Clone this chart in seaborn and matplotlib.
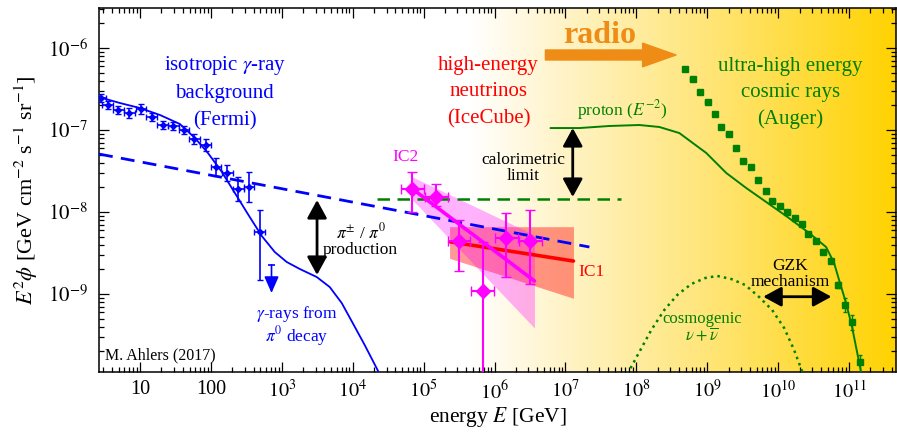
import numpy as np
import matplotlib
matplotlib.use('Agg')
import matplotlib.pyplot as plt
import seaborn as sns
from matplotlib.colors import LinearSegmentedColormap
from matplotlib.ticker import LogLocator, FixedLocator, FuncFormatter, NullFormatter

# values are log10(E / GeV) and log10(E^2 phi / GeV cm^-2 s^-1 sr^-1)

# Fermi isotropic gamma-ray background
fermi_logE = [0.451, 0.545, 0.694, 0.849, 1.014, 1.165, 1.320, 1.469, 1.620,
              1.765, 1.925, 2.070, 2.230, 2.385, 2.539, 2.690]
fermi_logF = [-6.610, -6.695, -6.756, -6.793, -6.744, -6.841, -6.939, -6.951,
              -7.000, -7.110, -7.183, -7.451, -7.524, -7.720, -7.695, -8.244]
fermi_err_up = [0.05, 0.05, 0.05, 0.06, 0.06, 0.05, 0.05, 0.05, 0.05, 0.06,
                0.07, 0.11, 0.10, 0.15, 0.18, 0.27]
fermi_err_dn = [0.05, 0.05, 0.05, 0.06, 0.06, 0.05, 0.05, 0.05, 0.05, 0.06,
                0.07, 0.11, 0.10, 0.15, 0.18, 0.58]
fermi_ul_logE = 2.855
fermi_ul_logF = -8.646
fermi_ul_tip = -8.988

# pi0 decay gamma-ray model
gamma_logE = [0.4225, 0.718, 1.0, 1.282, 1.563, 1.775, 1.958, 2.155, 2.338, 2.521,
              2.718, 2.901, 3.070, 3.254, 3.493, 3.676, 3.845, 4.0, 4.169, 4.380]
gamma_logF = [-6.598, -6.671, -6.732, -6.817, -6.927, -7.098, -7.280, -7.512, -7.768,
              -8.024, -8.293, -8.488, -8.610, -8.695, -8.793, -8.915, -9.110, -9.354,
              -9.622, -9.976]

# power-law extrapolation (dashed blue)
pl_logE = [0.4225, 7.338]
pl_logF = [-7.293, -8.427]

# calorimetric limit (dashed green)
calo_logE = [4.338, 7.789]
calo_logF = [-7.845, -7.845]

# IceCube IC2 (HESE) data
ic2_logE = [4.841, 5.179, 5.497, 5.835, 6.165, 6.503]
ic2_logF = [-7.720, -7.821, -8.354, -8.960, -8.313, -8.350]
ic2_err_up = [0.204, 0.16, 0.256, 0.598, 0.304, 0.374]
ic2_err_dn = [0.276, 0.10, 0.366, 3.0, 0.476, 0.528]
ic2_xerr = 0.16
ic2_band_logE = [4.845, 6.563]
ic2_band_hi = [-7.573, -8.280]
ic2_band_lo = [-7.854, -9.415]
ic2_fit = [-7.720, -8.841]

# IceCube IC1 (through-going muons)
ic1_logE = [5.366, 7.113]
ic1_band_hi = [-8.179, -8.179]
ic1_band_lo = [-8.565, -9.052]
ic1_fit = [-8.362, -8.598]

# Auger UHECR spectrum
auger_logE = [8.690, 8.793, 8.901, 9.004, 9.108, 9.193, 9.300, 9.404, 9.511, 9.620,
              9.718, 9.824, 9.920, 10.025, 10.131, 10.235, 10.341, 10.427, 10.531,
              10.638, 10.742, 10.845, 10.939, 11.046, 11.151]
auger_logF = [-6.256, -6.382, -6.540, -6.662, -6.805, -6.967, -7.049, -7.216, -7.374,
              -7.455, -7.610, -7.744, -7.870, -7.930, -8.006, -8.077, -8.150, -8.268,
              -8.350, -8.484, -8.598, -8.890, -9.134, -9.345, -9.826]
auger_err_up = [0.02] * 21 + [0.04, 0.08, 0.09, 0.08]
auger_err_dn = [0.02] * 21 + [0.04, 0.08, 0.10, 0.5]

# proton model E^-2
proton_logE = [6.789, 7.197, 7.620, 8.042, 8.324, 8.606, 8.986, 9.268, 9.549, 9.831,
               10.113, 10.437, 10.676, 10.789, 10.859, 10.958, 11.042, 11.169]
proton_logF = [-6.976, -6.976, -6.951, -6.939, -6.963, -7.037, -7.280, -7.524, -7.707,
               -7.878, -8.049, -8.256, -8.427, -8.622, -8.829, -9.110, -9.402, -9.951]

# cosmogenic neutrinos
cosmo_logE = [7.873, 8.042, 8.211, 8.394, 8.577, 8.775, 8.972, 9.141, 9.338, 9.535,
              9.732, 9.915, 10.085, 10.225, 10.352]
cosmo_logF = [-9.976, -9.707, -9.439, -9.195, -9.012, -8.878, -8.805, -8.780, -8.817,
              -8.890, -9.037, -9.195, -9.415, -9.683, -9.976]

XLIM = (0.4225, 11.662)
YLIM = (-9.951, -5.506)
xticks_exp = list(range(1, 12))
yticks_exp = [-9, -8, -7, -6]

BLUE = '#0000ff'
RED = '#ff0000'
MAG = '#ff00ff'
GREEN = '#008000'
ORANGE = '#ee8c16'


def p(v):
    return 10 ** np.asarray(v, dtype=float)


sns.set_theme(style='ticks')
plt.rcParams['font.family'] = ['Liberation Serif', 'DejaVu Serif']
plt.rcParams['mathtext.fontset'] = 'stix'

fig = plt.figure(figsize=(8.97, 4.34), dpi=100)
ax = fig.add_axes([0.1104, 0.1429, 0.8885, 0.8398])
ax.set_xscale('log')
ax.set_yscale('log')
ax.set_xlim(p(XLIM))
ax.set_ylim(p(YLIM))

# yellow background gradient
gx = np.linspace(XLIM[0], XLIM[1], 300)
t = np.clip((gx - 5.6) / (XLIM[1] - 5.6), 0, 1)
cmap = LinearSegmentedColormap.from_list(
    'bg', [(0, '#ffffff'), (0.2, '#fff4cc'), (0.55, '#ffe57a'), (1, '#ffd200')])
ax.pcolormesh(p(gx), p(YLIM), t[np.newaxis, :-1], cmap=cmap, vmin=0, vmax=1,
              shading='flat', zorder=0, rasterized=True)

# gamma rays
sns.lineplot(x=p(gamma_logE), y=p(gamma_logF), color=BLUE, lw=1.3, sort=False,
             estimator=None, ax=ax, zorder=3)
sns.lineplot(x=p(pl_logE), y=p(pl_logF), color=BLUE, lw=2, linestyle=(0, (5, 3)),
             sort=False, estimator=None, ax=ax, zorder=3)
fx = p(fermi_logE)
fy = p(fermi_logF)
ax.errorbar(fx, fy,
            yerr=[fy - fy * 10 ** -np.array(fermi_err_dn), fy * 10 ** np.array(fermi_err_up) - fy],
            xerr=[fx - fx * 10 ** -0.075, fx * 10 ** 0.075 - fx],
            fmt='D', ms=3, color=BLUE, lw=1.2, capsize=2.5, zorder=4)
ux = p(fermi_ul_logE)
ax.errorbar([ux], [p(fermi_ul_logF)], xerr=[[ux - ux * 10 ** -0.05], [ux * 10 ** 0.05 - ux]],
            fmt='none', color=BLUE, lw=1.2, zorder=4)
ax.annotate('', xy=(ux, p(fermi_ul_tip)), xytext=(ux, p(fermi_ul_logF)),
            arrowprops=dict(arrowstyle='-|>,head_length=0.5,head_width=0.22', color=BLUE,
                            lw=1.2, shrinkA=0, shrinkB=0, mutation_scale=20), zorder=4)

# calorimetric limit
sns.lineplot(x=p(calo_logE), y=p(calo_logF), color=GREEN, lw=1.8, linestyle=(0, (5, 3)),
             sort=False, estimator=None, ax=ax, zorder=3)

# neutrinos
ax.fill_between(p(ic1_logE), p(ic1_band_lo), p(ic1_band_hi), color=RED, alpha=0.4,
                lw=0, zorder=2)
ax.fill_between(p(ic2_band_logE), p(ic2_band_lo), p(ic2_band_hi), color=MAG, alpha=0.3,
                lw=0, zorder=2)
sns.lineplot(x=p(ic1_logE), y=p(ic1_fit), color=RED, lw=2.6, sort=False,
             estimator=None, ax=ax, zorder=4)
sns.lineplot(x=p(ic2_band_logE), y=p(ic2_fit), color=MAG, lw=2.6, sort=False,
             estimator=None, ax=ax, zorder=4)
nx = p(ic2_logE)
ny = p(ic2_logF)
ax.errorbar(nx, ny,
            yerr=[ny - ny * 10 ** -np.array(ic2_err_dn), ny * 10 ** np.array(ic2_err_up) - ny],
            xerr=[nx - nx * 10 ** -ic2_xerr, nx * 10 ** ic2_xerr - nx],
            fmt='D', ms=7, color=MAG, lw=1.5, capsize=3.5, zorder=5)

# UHECR
sns.lineplot(x=p(proton_logE), y=p(proton_logF), color=GREEN, lw=1.4, sort=False,
             estimator=None, ax=ax, zorder=3)
ax_ = p(auger_logE)
ay = p(auger_logF)
ax.errorbar(ax_, ay,
            yerr=[ay - ay * 10 ** -np.array(auger_err_dn), ay * 10 ** np.array(auger_err_up) - ay],
            xerr=[ax_ - ax_ * 10 ** -0.03, ax_ * 10 ** 0.03 - ax_],
            fmt='s', ms=4, color=GREEN, lw=1, capsize=1.5, zorder=5)
sns.lineplot(x=p(cosmo_logE), y=p(cosmo_logF), color=GREEN, lw=1.8, linestyle=':',
             sort=False, estimator=None, ax=ax, zorder=3)

# arrows
dbl = dict(arrowstyle='<|-|>,head_length=0.55,head_width=0.3', color='black', lw=2,
           shrinkA=0, shrinkB=0, mutation_scale=20)
ax.annotate('', xy=(p(3.497), p(-7.854)), xytext=(p(3.497), p(-8.768)), arrowprops=dbl, zorder=6)
ax.annotate('', xy=(p(7.103), p(-6.976)), xytext=(p(7.103), p(-7.817)), arrowprops=dbl, zorder=6)
ax.annotate('', xy=(p(9.789), p(-9.033)), xytext=(p(10.751), p(-9.033)), arrowprops=dbl, zorder=6)
ax.annotate('', xy=(p(8.559), p(-6.085)), xytext=(p(6.718), p(-6.085)),
            arrowprops=dict(arrowstyle='simple,head_length=1.2,head_width=0.85,tail_width=0.36',
                            color=ORANGE, shrinkA=0, shrinkB=0, mutation_scale=20), zorder=6)

# labels
def label(lx, ly, s, color='black', size=12.5, ha='center', ls=1.2, weight='normal'):
    ax.text(p(lx), p(ly), s, color=color, fontsize=size, ha=ha, va='center',
            linespacing=ls, fontweight=weight, zorder=7)

label(2.197, -6.537, 'isotropic $\\gamma$-ray\nbackground\n(Fermi)', BLUE, 15, ls=1.55)
label(5.915, -6.537, 'high-energy\nneutrinos\n(IceCube)', RED, 15, ls=1.55)
label(10.169, -6.549, 'ultra-high energy\ncosmic rays\n(Auger)', GREEN, 15, ls=1.5)
label(7.479, -5.850, 'radio', ORANGE, 23, weight='bold')
label(7.803, -6.756, 'proton ($E^{-2}$)', GREEN, 12.5)
label(4.746, -7.329, 'IC2', MAG, 12.5)
label(7.366, -8.732, 'IC1', RED, 12.5)
label(6.401, -7.463, 'calorimetric\nlimit', 'black', 12.5, ls=1.0)
label(4.113, -8.341, '$\\pi^{\\pm}$ / $\\pi^{0}$\nproduction', 'black', 12.5, ls=0.95)
label(3.211, -9.390, '$\\gamma$-rays from\n$\\pi^{0}$ decay', BLUE, 12.5, ls=1.0)
label(10.169, -8.756, 'GZK\nmechanism', 'black', 12.5, ls=0.95)
label(8.930, -9.415, 'cosmogenic\n$\\nu+\\overline{\\nu}$', GREEN, 12, ls=1.0)
label(0.507, -9.744, 'M. Ahlers (2017)', 'black', 11.5, ha='left')

# axes
ax.set_xlabel('energy $E$ [GeV]', fontsize=15.5, color='black', labelpad=1)
ax.set_ylabel('$E^2\\phi$ [GeV cm$^{-2}$ s$^{-1}$ sr$^{-1}$]', fontsize=16, color='black',
              labelpad=6)


def xfmt(v, pos):
    n = int(round(np.log10(v)))
    if n == 1:
        return '10'
    if n == 2:
        return '100'
    return '$10^{%d}$' % n


ax.xaxis.set_major_locator(FixedLocator(p(xticks_exp)))
ax.xaxis.set_minor_locator(LogLocator(base=10, subs=np.arange(2, 10), numticks=40))
ax.xaxis.set_major_formatter(FuncFormatter(xfmt))
ax.xaxis.set_minor_formatter(NullFormatter())
ax.yaxis.set_major_locator(FixedLocator(p(yticks_exp)))
ax.yaxis.set_minor_locator(LogLocator(base=10, subs=np.arange(2, 10), numticks=40))
ax.yaxis.set_major_formatter(FuncFormatter(lambda v, pos: '$10^{%d}$' % int(round(np.log10(v)))))
ax.yaxis.set_minor_formatter(NullFormatter())
ax.tick_params(which='both', direction='in', top=True, right=True, colors='black',
               width=0.9)
ax.tick_params(axis='x', which='major', labelsize=14.5, pad=6)
ax.tick_params(axis='y', which='major', labelsize=15, pad=8)
ax.tick_params(which='major', length=7)
ax.tick_params(which='minor', length=3.5)
for s in ax.spines.values():
    s.set_color('black')
    s.set_linewidth(1.1)

fig.savefig('out.png', dpi=100)
